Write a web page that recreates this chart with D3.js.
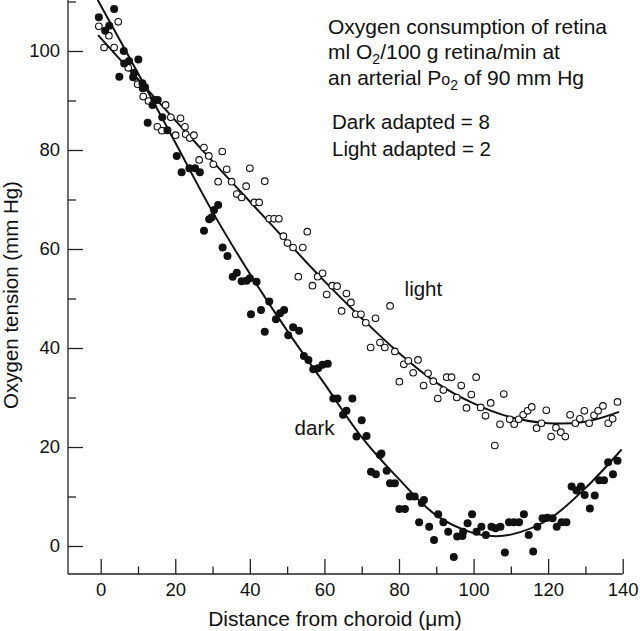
<!DOCTYPE html>
<html>
<head>
<meta charset="utf-8">
<script src="https://cdn.jsdelivr.net/npm/d3@7"></script>
<style>
  html, body { margin: 0; padding: 0; background: #fff; }
  svg { display: block; }
  text { font-family: "Liberation Sans", Arial, Helvetica, sans-serif; fill: #111; }
</style>
</head>
<body>
<svg id="chart" width="640" height="631"></svg>
<script>
// ---- data ----
const xMajorTicks = [0, 20, 40, 60, 80, 100, 120, 140];
const xMinorTicks = [10, 30, 50, 70, 90, 110, 130];
const yMajorTicks = [0, 20, 40, 60, 80, 100];
const yMinorTicks = [10, 30, 50, 70, 90, 110];

const darkX = [-0.5,3.6,2.3,1.2,6.2,6.3,7.6,10.1,5.0,9.0,8.7,11.2,11.9,11.3,14.4,15.3,13.9,16.5,12.6,17.9,
  20.4,21.7,23.8,25.3,26.6,31.5,30.4,29.8,29.1,27.7,32.7,34.0,36.5,35.4,37.8,39.1,40.0,41.8,45.2,43.0,
  40.3,49.2,48.1,47.0,44.0,50.3,51.6,53.2,54.5,55.7,57.0,58.3,59.5,60.9,62.4,63.5,67.5,65.0,65.9,70.0,
  68.6,71.3,74.9,75.3,72.5,73.8,76.7,77.6,78.9,82.9,84.2,86.7,86.1,80.1,81.6,85.4,88.1,89.4,90.5,91.9,
  93.2,94.7,95.6,97.0,97.2,98.4,99.6,100.8,102.1,103.3,104.8,105.9,107.2,108.4,109.5,110.8,112.2,113.5,114.8,116.0,
  117.1,118.5,119.8,121.2,122.3,123.6,124.9,126.3,127.6,128.8,129.8,131.2,132.5,133.7,135.0,136.1,138.6,137.4];
const darkY = [106.8,108.5,105.1,104.1,100.0,97.5,98.0,98.3,94.8,95.6,94.7,93.5,92.7,92.5,90.1,90.1,89.1,86.6,85.5,84.0,
  78.8,75.5,76.3,76.3,75.5,68.9,67.9,66.4,66.0,63.7,60.3,58.6,55.2,54.4,53.5,53.6,54.1,53.4,49.4,47.7,
  46.8,47.7,47.0,45.8,43.3,42.6,44.2,43.5,38.4,37.6,35.7,35.9,36.6,36.8,29.8,29.8,29.8,26.5,27.3,25.4,
  22.1,22.2,18.4,18.7,15.0,14.5,15.2,12.7,12.7,10.0,10.0,9.3,8.7,7.5,7.5,4.8,3.9,1.2,6.4,4.8,
  2.9,-2.2,1.9,2.0,2.9,4.6,6.4,2.9,3.9,2.2,3.9,3.6,3.9,-1.3,4.8,4.8,4.8,6.4,2.2,-1.1,
  3.9,5.6,5.7,5.6,3.9,4.8,4.8,12.0,11.2,12.0,10.3,7.6,10.2,13.3,13.3,16.9,17.2,14.5];

const lightX = [-0.5,2.2,4.7,0.9,3.6,7.4,9.9,11.4,12.8,17.4,18.8,21.4,15.2,16.4,20.1,22.6,22.8,23.9,25.0,27.7,
  29.0,30.2,26.4,32.6,33.8,35.1,31.5,39.0,40.0,44.0,36.5,37.8,41.2,42.5,45.2,46.5,47.8,49.0,50.1,51.6,
  54.2,55.4,53.0,56.8,58.2,59.5,60.6,62.1,63.4,65.9,64.6,67.1,68.4,69.8,71.1,73.7,77.6,72.4,74.9,76.2,
  78.9,80.1,81.3,82.5,83.8,85.1,86.6,87.8,89.2,90.4,91.9,92.8,94.1,96.7,95.5,98.1,99.4,100.7,101.9,103.2,
  104.6,105.7,107.1,108.1,109.7,110.9,112.1,113.3,114.5,115.6,116.9,118.2,119.5,120.8,122.1,123.4,124.6,125.9,127.3,128.5,
  129.7,131.0,132.3,133.4,134.7,136.1,137.3,138.6];
const lightY = [105.0,103.1,105.9,100.7,100.7,96.6,93.3,90.8,89.9,89.1,86.6,86.4,84.7,83.9,83.0,84.7,83.2,82.4,83.0,80.5,
  78.8,77.1,78.0,79.7,76.1,73.6,73.6,72.7,76.3,73.7,71.1,70.4,69.4,69.4,66.1,66.1,66.1,62.6,61.2,60.3,
  60.3,63.5,54.4,52.6,54.4,55.1,50.8,52.6,52.5,51.0,47.5,49.2,46.8,46.8,45.1,46.0,48.5,40.1,41.1,40.1,
  39.3,33.2,36.7,37.4,35.0,37.6,32.4,34.9,33.3,29.8,31.5,34.1,34.1,32.4,30.0,27.9,30.6,34.1,28.0,26.3,
  28.9,20.3,24.6,30.7,25.6,24.6,25.6,26.5,27.3,28.1,23.8,24.8,27.4,22.1,23.9,23.0,22.1,26.5,24.8,25.7,
  27.3,24.8,26.4,27.3,28.3,24.8,25.7,29.1];

// fitted curves
const darkFitX = [-0.8, 10, 20, 30, 40, 50, 60, 70, 80, 90, 100, 105, 110, 120, 130, 139.7];
const darkFitY = [110.3, 95.5, 81.5, 67.5, 55.0, 43.5, 32.8, 22.0, 13.5, 6.2, 2.6, 2.0, 2.3, 5.3, 11.7, 19.5];
const lightFitX = [-0.7, 10, 20, 30, 40, 50, 60, 70, 80, 90, 100, 110, 120, 130, 139];
const lightFitY = [103.2, 94.3, 86.0, 77.7, 69.6, 61.5, 53.5, 46.0, 39.0, 33.0, 28.8, 26.0, 24.8, 25.1, 27.1];

const seriesLabels = ["dark", "light"];
const labelPos = [[52, 22.5], [81.5, 50.5]];
const xTitle = "Distance from choroid (\u03bcm)";
const yTitle = "Oxygen tension (mm Hg)";

// ---- drawing ----
const svg = d3.select("#chart");
const x = d3.scaleLinear().domain([0, 140]).range([100.7, 622.7]);
const y = d3.scaleLinear().domain([0, 100]).range([546, 51]);
const xMin = -8.77, yMin = -5.66, yTop = 110.3;

// axis lines
svg.append("line").attr("x1", x(xMin)).attr("x2", x(xMin)).attr("y1", y(yTop)).attr("y2", y(yMin))
  .attr("stroke", "#222").attr("stroke-width", 1.3);
svg.append("line").attr("x1", x(xMin)).attr("x2", x(140)).attr("y1", y(yMin)).attr("y2", y(yMin))
  .attr("stroke", "#222").attr("stroke-width", 1.3);

function styleAxis(g) {
  g.select(".domain").remove();
  g.selectAll(".tick line").attr("stroke", "#222").attr("stroke-width", 1.3);
  g.selectAll(".tick text").style("font-size", "18.5px").attr("fill", "#111");
}

svg.append("g").attr("transform", `translate(0,${y(yMin)})`)
  .call(d3.axisBottom(x).tickValues(xMajorTicks).tickSize(-15).tickPadding(9).tickFormat(d3.format("d")))
  .call(styleAxis);
svg.append("g").attr("transform", `translate(0,${y(yMin)})`)
  .call(d3.axisBottom(x).tickValues(xMinorTicks).tickSize(-7.5).tickFormat(""))
  .call(styleAxis);
svg.append("g").attr("transform", `translate(${x(xMin)},0)`)
  .call(d3.axisLeft(y).tickValues(yMajorTicks).tickSize(-15).tickPadding(8).tickFormat(d3.format("d")))
  .call(styleAxis);
svg.append("g").attr("transform", `translate(${x(xMin)},0)`)
  .call(d3.axisLeft(y).tickValues(yMinorTicks).tickSize(-8).tickFormat(""))
  .call(styleAxis);

// fitted lines
const line = d3.line().x(d => x(d[0])).y(d => y(d[1])).curve(d3.curveCatmullRom.alpha(0.5));
svg.append("path").datum(darkFitX.map((v, i) => [v, darkFitY[i]]))
  .attr("d", line).attr("fill", "none").attr("stroke", "#111").attr("stroke-width", 2);
svg.append("path").datum(lightFitX.map((v, i) => [v, lightFitY[i]]))
  .attr("d", line).attr("fill", "none").attr("stroke", "#111").attr("stroke-width", 2);

// points
svg.append("g").selectAll("circle").data(lightX.map((v, i) => [v, lightY[i]])).join("circle")
  .attr("cx", d => x(d[0])).attr("cy", d => y(d[1])).attr("r", 3.3)
  .attr("fill", "#fff").attr("stroke", "#111").attr("stroke-width", 1.1);
svg.append("g").selectAll("circle").data(darkX.map((v, i) => [v, darkY[i]])).join("circle")
  .attr("cx", d => x(d[0])).attr("cy", d => y(d[1])).attr("r", 4)
  .attr("fill", "#111");

// series labels
svg.selectAll(".slabel").data(seriesLabels).join("text").attr("class", "slabel")
  .attr("x", (d, i) => x(labelPos[i][0])).attr("y", (d, i) => y(labelPos[i][1]))
  .style("font-size", "20.5px").text(d => d);

// axis titles
svg.append("text").attr("x", 335).attr("y", 626).attr("text-anchor", "middle")
  .style("font-size", "21px").text(xTitle);
svg.append("text").attr("transform", "translate(18,295) rotate(-90)").attr("text-anchor", "middle")
  .style("font-size", "20.5px").text(yTitle);

// annotation
const ann = svg.append("g").style("font-size", "21px");
ann.append("text").attr("x", 328).attr("y", 34).text("Oxygen consumption of retina");
const l2 = ann.append("text").attr("x", 328).attr("y", 59);
l2.append("tspan").text("ml O");
l2.append("tspan").attr("dy", 5).style("font-size", "14px").text("2");
l2.append("tspan").attr("dy", -5).text("/100 g retina/min at");
const l3 = ann.append("text").attr("x", 328).attr("y", 85);
l3.append("tspan").text("an arterial P");
l3.append("tspan").style("font-size", "16px").text("o");
l3.append("tspan").attr("dy", 5).style("font-size", "14px").text("2");
l3.append("tspan").attr("dy", -5).text(" of 90 mm Hg");
ann.append("text").attr("x", 332).attr("y", 129).style("font-size", "20.5px").text("Dark adapted = 8");
ann.append("text").attr("x", 332).attr("y", 156).style("font-size", "20.5px").text("Light adapted = 2");
</script>
</body>
</html>
